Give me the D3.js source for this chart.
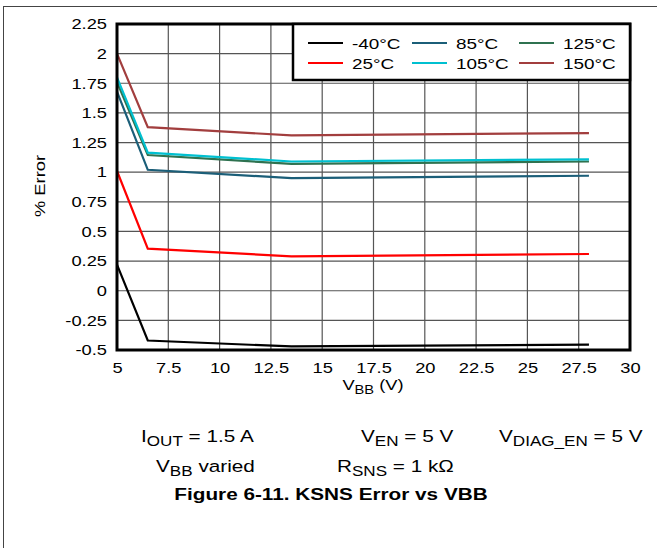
<!DOCTYPE html>
<html><head><meta charset="utf-8">
<script src="https://cdn.jsdelivr.net/npm/d3@7"></script>
<style>body{margin:0;background:#fff}svg{display:block}text{font-family:"Liberation Sans",Arial,sans-serif;fill:#000}</style>
</head><body><svg id="c" width="657" height="548"></svg>
<script>
const vbb = [5, 6.5, 13.5, 28];
const temps = ["-40°C", "25°C", "85°C", "105°C", "125°C", "150°C"];
const errM40 = [0.22, -0.42, -0.47, -0.455];
const err25 = [1.01, 0.355, 0.29, 0.31];
const err85 = [1.68, 1.02, 0.95, 0.97];
const err105 = [1.80, 1.165, 1.09, 1.108];
const err125 = [1.76, 1.145, 1.07, 1.09];
const err150 = [2.0, 1.38, 1.31, 1.33];
const colors = ["#000000", "#ff0000", "#1b5e78", "#00c0d0", "#2f7250", "#a23e3e"];
const xTicks = [5, 7.5, 10, 12.5, 15, 17.5, 20, 22.5, 25, 27.5, 30];
const yTicks = [-0.5, -0.25, 0, 0.25, 0.5, 0.75, 1, 1.25, 1.5, 1.75, 2, 2.25];

const series = [errM40, err25, err85, err105, err125, err150];
const drawOrder = [0, 1, 2, 4, 3, 5];
const S = 1.22; // horizontal text stretch seen in the reference

const svg = d3.select("#c");
const L = 117, R = 630, T = 24, B = 350;
const x = d3.scaleLinear().domain([5, 30]).range([L, R]);
const y = d3.scaleLinear().domain([-0.5, 2.25]).range([B, T]);

function stxt(xp, yp, size, anchor, rot) {
  return svg.append("text")
    .attr("transform", `translate(${xp},${yp})${rot ? " rotate(" + rot + ")" : ""} scale(${S},1)`)
    .attr("font-size", size).attr("text-anchor", anchor || "start");
}

// page frame
svg.append("line").attr("x1", 3).attr("x2", 657).attr("y1", 6.5).attr("y2", 6.5).attr("stroke", "#444").attr("stroke-width", 1);
svg.append("line").attr("x1", 3.5).attr("x2", 3.5).attr("y1", 6).attr("y2", 548).attr("stroke", "#444").attr("stroke-width", 1);

// grid
const g = svg.append("g");
g.selectAll(".vg").data(xTicks.slice(1, -1)).join("line")
  .attr("x1", d => x(d)).attr("x2", d => x(d)).attr("y1", T).attr("y2", B)
  .attr("stroke", "#555").attr("stroke-width", 1.2);
g.selectAll(".hg").data(yTicks.slice(1, -1)).join("line")
  .attr("x1", L).attr("x2", R).attr("y1", d => y(d)).attr("y2", d => y(d))
  .attr("stroke", "#555").attr("stroke-width", 1.2);

// lines
const line = d3.line().x((d, i) => x(vbb[i])).y(d => y(d));
drawOrder.forEach(k => {
  svg.append("path").datum(series[k]).attr("d", line)
    .attr("fill", "none").attr("stroke", colors[k]).attr("stroke-width", 2.2);
});

// frame
svg.append("rect").attr("x", L).attr("y", T).attr("width", R - L).attr("height", B - T)
  .attr("fill", "none").attr("stroke", "#000").attr("stroke-width", 3);

// axes
const xa = d3.axisBottom(x).tickValues(xTicks).tickSize(0).tickPadding(12).tickFormat(d => String(d));
const xg = svg.append("g").attr("transform", `translate(0,${B})`).call(xa);
xg.select(".domain").remove();
xg.selectAll("text").attr("font-size", 15).style("font-family", '"Liberation Sans",Arial,sans-serif')
  .attr("fill", "#000").attr("transform", `scale(${S},1)`);
const ya = d3.axisLeft(y).tickValues(yTicks).tickSize(0).tickPadding(10).tickFormat(d => String(d));
const yg = svg.append("g").attr("transform", `translate(${L},0)`).call(ya);
yg.select(".domain").remove();
yg.selectAll("text").attr("font-size", 15).style("font-family", '"Liberation Sans",Arial,sans-serif')
  .attr("fill", "#000").attr("x", -10 / S).attr("transform", `scale(${S},1)`);

// axis titles
const xt = stxt(373, 390, 15, "middle");
xt.append("tspan").text("V");
xt.append("tspan").text("BB").attr("font-size", 12).attr("dy", 4);
xt.append("tspan").text(" (V)").attr("dy", -4);
stxt(45, 186, 15, "middle", -90).text("% Error");

// legend
const lg = svg.append("g");
lg.append("rect").attr("x", 293).attr("y", T).attr("width", R - 293).attr("height", 56)
  .attr("fill", "#fff").attr("stroke", "#000").attr("stroke-width", 2.5);
const legOrder = [0, 2, 4, 1, 3, 5];
const colX = [308, 412, 519];
const rowY = [43, 63];
legOrder.forEach((k, i) => {
  const cx = colX[i % 3], cy = rowY[Math.floor(i / 3)];
  svg.append("line").attr("x1", cx).attr("x2", cx + 35).attr("y1", cy).attr("y2", cy)
    .attr("stroke", colors[k]).attr("stroke-width", 2.2);
  stxt(cx + 44, cy + 5.5, 15.5).text(temps[k]);
});

// conditions
function sub(xp, yp, parts) {
  const t = stxt(xp, yp, 17);
  parts.forEach(p => {
    if (p[1]) t.append("tspan").text(p[0]).attr("font-size", 14).attr("dy", 4);
    else t.append("tspan").text(p[0]).attr("dy", p[2] ? -4 : 0);
  });
}
sub(141, 442, [["I"], ["OUT", 1], [" = 1.5 A", 0, 1]]);
sub(361, 442, [["V"], ["EN", 1], [" = 5 V", 0, 1]]);
sub(499, 442, [["V"], ["DIAG_EN", 1], [" = 5 V", 0, 1]]);
sub(156, 472, [["V"], ["BB", 1], [" varied", 0, 1]]);
sub(337, 472, [["R"], ["SNS", 1], [" = 1 kΩ", 0, 1]]);
stxt(331, 500, 17, "middle").attr("font-weight", "bold").text("Figure 6-11. KSNS Error vs VBB");
</script></body></html>
